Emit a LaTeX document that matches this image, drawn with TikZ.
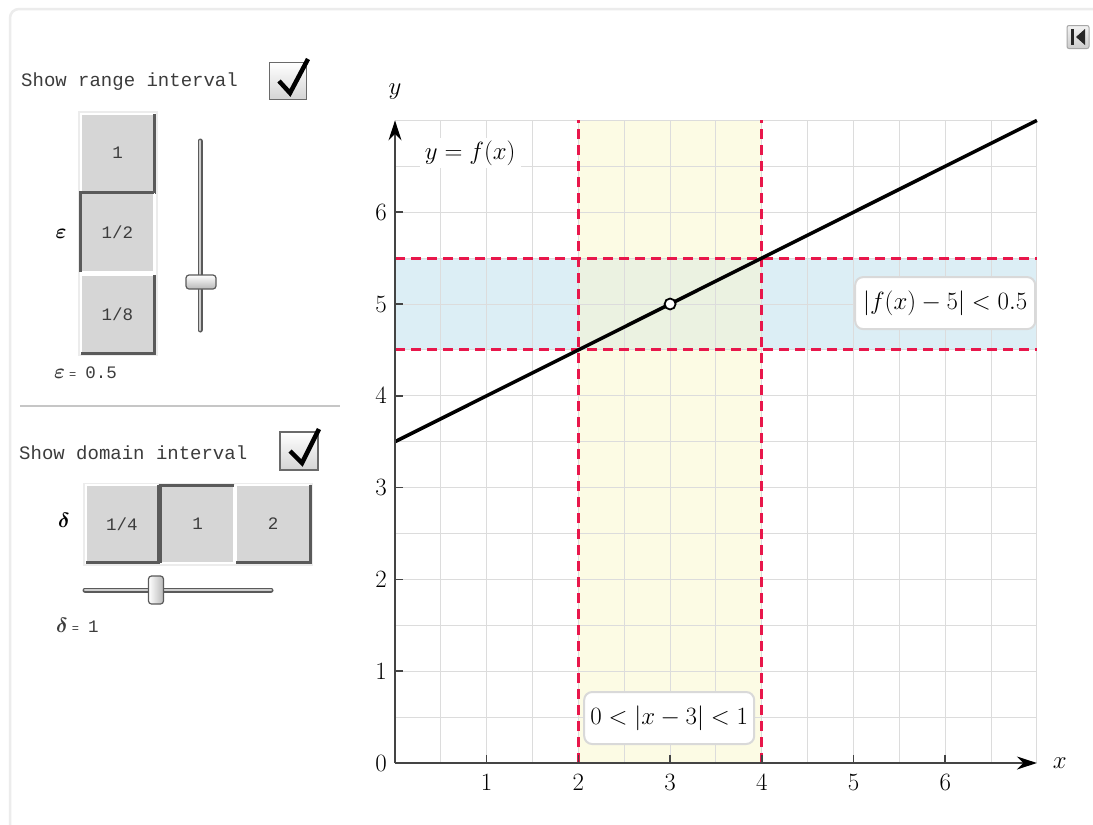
\documentclass[tikz,border=0pt]{standalone}
\usepackage{fontspec}
\setmonofont{Liberation Mono}
\usepackage{bm}
\usetikzlibrary{arrows.meta}
\definecolor{gridc}{HTML}{DCDCDC}
\definecolor{redd}{HTML}{E8174B}
\definecolor{bandb}{HTML}{DCEEF5}
\definecolor{bandy}{HTML}{FCFBE4}
\definecolor{bandg}{HTML}{EBF2E1}
\definecolor{btn}{HTML}{D6D6D6}
\definecolor{btndark}{HTML}{5A5A5A}
\definecolor{framec}{HTML}{ECECEC}
\definecolor{txt}{HTML}{3C3C3C}
\definecolor{cbborder}{HTML}{6A6A6A}
\definecolor{cbgray}{HTML}{D4D4D4}
\definecolor{thumbgray}{HTML}{B8B8B8}
\definecolor{axisc}{HTML}{444444}
\definecolor{boxc}{HTML}{D9D9D9}
\newcommand\mytt{\ttfamily\fontsize{19}{19}\selectfont}
\newcommand\mybtn{\ttfamily\fontsize{17.5}{17.5}\selectfont}
\newcommand\mysmalltt{\ttfamily\fontsize{12}{12}\selectfont}
\newcommand\mymath{\fontsize{23}{23}\selectfont}
\newcommand\mygreek{\fontsize{22}{22}\selectfont}
\begin{document}
\begin{tikzpicture}[x=1pt,y=-1pt,
  monotext/.style={font=\mytt, text=txt, inner sep=0pt, anchor=west},
  btnbox/.style={fill=btn, inner sep=0pt, font=\mybtn, text=txt},
  dkedge/.style={draw=btndark, line width=3pt},
  ltedge/.style={draw=white, line width=2pt},
  grpframe/.style={draw=framec, line width=1.5pt},
  checkbox/.style={draw=cbborder, line width=1.2pt, top color=white, bottom color=cbgray, minimum size=#1, inner sep=0pt},
  checkmark/.style={line width=4.5pt, line join=miter, line cap=butt},
  trackout/.style={line width=5pt, draw=btndark, line cap=round},
  trackin/.style={line width=2.4pt, draw=thumbgray!70, line cap=round},
  thumbv/.style={draw=btndark, line width=1.2pt, rounded corners=3pt, top color=white, bottom color=thumbgray, minimum width=30pt, minimum height=14pt, inner sep=0pt},
  thumbh/.style={draw=btndark, line width=1.2pt, rounded corners=3pt, left color=white, right color=thumbgray, minimum width=15pt, minimum height=28pt, inner sep=0pt},
  gridline/.style={draw=gridc, line width=1pt},
  reddash/.style={draw=redd, line width=3pt, dash pattern=on 10pt off 6pt},
  axisline/.style={draw=axisc, line width=1.5pt},
  ticklab/.style={font=\mymath, inner sep=0pt},
  labbox/.style={draw=boxc, line width=2pt, rounded corners=8pt, fill=white, font=\mymath, inner sep=0pt}
]
\useasboundingbox (0,0) rectangle (1093,825);
\fill[white] (0,0) rectangle (1093,825);
% outer frame
\draw[framec, line width=2.5pt, rounded corners=9pt] (10,840) -- (10,9) -- (1110,9);

% ---------- left panel: range ----------
\node[monotext] (srange) at (21,82) {Show range interval};
\node[checkbox=37pt] (cb1) at (288,81) {};
\draw[checkmark] (279,81) -- (290,93) -- (308,59);

\draw[grpframe] (79,112) rectangle (157,355);
\node[btnbox, minimum width=73pt, minimum height=78pt] (e1) at (117.5,153) {1};
\node[btnbox, minimum width=73pt, minimum height=79pt] (e2) at (117.5,232.5) {1/2};
\node[btnbox, minimum width=73pt, minimum height=78pt] (e3) at (117.5,314) {1/8};
\draw[ltedge] (e1.south west) -- (e1.north west) -- (e1.north east);
\draw[dkedge] (e1.north east) -- (e1.south east) -- (e1.south west);
\draw[ltedge] (e2.south west) -- (e2.south east) -- (e2.north east);
\draw[dkedge] (e2.south west) -- (e2.north west) -- (e2.north east);
\draw[ltedge] (e3.south west) -- (e3.north west) -- (e3.north east);
\draw[dkedge] (e3.north east) -- (e3.south east) -- (e3.south west);
\node[font=\mygreek, inner sep=0pt] (eps) at (61,234) {$\bm{\varepsilon}$};

\coordinate (vtop) at (200,141);
\coordinate (vbot) at (200,330);
\draw[trackout] (vtop) -- (vbot);
\draw[trackin] (vtop) -- (vbot);
\node[thumbv] (vthumb) at (201,282) {};

\node[anchor=west, inner sep=0pt, text=txt] (epsval) at (54,373) {\mygreek$\bm{\varepsilon}$\hspace{4pt}{\mysmalltt=}\hspace{9pt}{\mybtn 0.5}};

% separator
\draw[gray!45, line width=1.2pt] (20,406) -- (340,406);

% ---------- left panel: domain ----------
\node[monotext] (sdomain) at (19,453) {Show domain interval};
\node[checkbox=38pt] (cb2) at (299,451) {};
\draw[checkmark] (290,451) -- (302,463) -- (319,429);

\draw[grpframe] (84,484) rectangle (312,565);
\node[btnbox, minimum width=72pt, minimum height=77pt] (d1) at (122,524) {1/4};
\node[btnbox, minimum width=73pt, minimum height=77pt] (d2) at (197.5,524) {1};
\node[btnbox, minimum width=74pt, minimum height=77pt] (d3) at (273,524) {2};
\draw[ltedge] (d1.south west) -- (d1.north west) -- (d1.north east);
\draw[dkedge] (d1.north east) -- (d1.south east) -- (d1.south west);
\draw[ltedge] (d2.south west) -- (d2.south east) -- (d2.north east);
\draw[dkedge] (d2.south west) -- (d2.north west) -- (d2.north east);
\draw[ltedge] (d3.south west) -- (d3.north west) -- (d3.north east);
\draw[dkedge] (d3.north east) -- (d3.south east) -- (d3.south west);
\node[font=\mygreek, inner sep=0pt] (del) at (64,520) {$\bm{\delta}$};

\coordinate (hleft) at (85,590);
\coordinate (hright) at (271,590);
\draw[trackout] (hleft) -- (hright);
\draw[trackin] (hleft) -- (hright);
\node[thumbh] (hthumb) at (156,590) {};

\node[anchor=west, inner sep=0pt, text=txt] (delval) at (56,625) {\mygreek$\bm{\delta}$\hspace{4pt}{\mysmalltt=}\hspace{9pt}{\mybtn 1}};

% ---------- top-right icon ----------
\node[draw=gray!70, line width=1pt, rounded corners=2pt, top color=gray!10, bottom color=gray!40, minimum width=22pt, minimum height=23pt, inner sep=0pt] (icon) at (1078,37) {};
\fill[black!85] (1071,29) rectangle (1074,45);
\fill[black!85] (1085,29) -- (1085,45) -- (1076,37) -- cycle;

% ---------- plot ----------
\begin{scope}[shift={(395,763)}, x=91.7pt, y=91.8pt]
  \fill[bandb] (0,4.5) rectangle (7,5.5);
  \fill[bandy] (2,0) rectangle (4,7);
  \fill[bandg] (2,4.5) rectangle (4,5.5);
  \foreach \i in {0.5,1,...,7} {
    \draw[gridline] (\i,0) -- (\i,7);
    \draw[gridline] (0,\i) -- (7,\i);
  }
  \node[fill=white, font=\mymath, inner xsep=5pt, inner ysep=3pt] (fxlab) at (0.82,6.645) {$y=f(x)$};
  \draw[reddash] (2,0) -- (2,7);
  \draw[reddash] (4,0) -- (4,7);
  \draw[reddash] (0,4.5) -- (7,4.5);
  \draw[reddash] (0,5.5) -- (7,5.5);
  \draw[black, line width=3.5pt] (0,3.5) -- (7,7);
  % axes
  \coordinate (O) at (0,0);
  \coordinate (xend) at (7,0);
  \coordinate (yend) at (0,7);
  \draw[axisline, -{Stealth[length=20pt, width=13pt, fill=black, color=black]}] (O) -- (xend);
  \draw[axisline, -{Stealth[length=20pt, width=13pt, fill=black, color=black]}] (O) -- (yend);
  \foreach \i in {1,...,6} {
    \draw[axisline] (\i,0) -- ++(0,8pt);
    \draw[axisline] (0,\i) -- ++(8pt,0);
    \node[ticklab] (xl\i) at (\i,-0.215) {$\i$};
    \node[ticklab] (yl\i) at (-0.153,\i) {$\i$};
  }
  \node[ticklab] (yl0) at (-0.153,0) {$0$};
  \node[ticklab] (xlab) at (7.25,0) {$x$};
  \node[ticklab] (ylab) at (0,7.31) {$y$};
  \draw[black, fill=white, line width=1.8pt] (3,5) circle[radius=5.5pt];
  \node[labbox, minimum width=180pt, minimum height=52pt] (rng) at (6.0,5.01) {$|f(x)-5|<0.5$};
  \node[labbox, minimum width=170pt, minimum height=52pt] (dom) at (2.99,0.49) {$0<|x-3|<1$};
\end{scope}
\end{tikzpicture}
\end{document}
